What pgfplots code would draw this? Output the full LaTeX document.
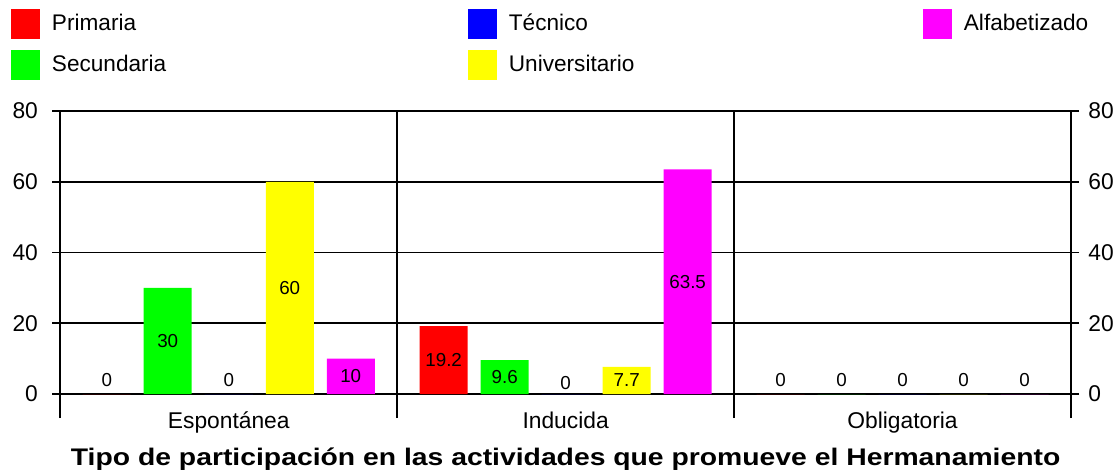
\documentclass[border=0pt]{standalone}
\usepackage{fontspec}
\setmainfont{Liberation Sans}
\usepackage{pgfplots}
\pgfplotsset{compat=1.18}
\definecolor{cRed}{RGB}{255,0,0}
\definecolor{cGreen}{RGB}{0,255,0}
\definecolor{cBlue}{RGB}{0,0,255}
\definecolor{cYellow}{RGB}{255,255,0}
\definecolor{cMag}{RGB}{255,0,255}
\pgfplotsset{
  mybar/.style={ybar, bar width=24pt, draw=none,
    legend image code/.code={\fill[##1] (0pt,-7.5pt) rectangle (14.5pt,7.5pt);}},
}
\begin{document}
\begin{tikzpicture}[x=1pt,y=1pt]
\path[use as bounding box] (0,0) rectangle (560,-238);
\begin{axis}[
  at={(30.15pt,-197pt)}, anchor=south west,
  scale only axis, width=505.35pt, height=141.5pt,
  xmin=-0.5, xmax=2.5, ymin=0, ymax=80,
  xtick={0,1,2}, xticklabels={Espontánea,Inducida,Obligatoria},
  minor xtick={-0.5,0.5,1.5,2.5},
  ytick={0,20,40,60,80},
  xminorgrids, ymajorgrids,
  tick pos=left, tick align=outside,
  major tick length=4pt, minor tick length=12pt,
  major x tick style={draw=none},
  minor x tick style={black, line width=0.8pt},
  ytick style={black, line width=0.8pt},
  major grid style={black, line width=0.8pt},
  minor grid style={black, line width=0.8pt},
  axis line style={black, line width=0.8pt},
  /pgf/number format/assume math mode=true,
  ticklabel style={font=\fontsize{11.4}{13}\selectfont},
  yticklabel style={inner sep=0pt, xshift=-7pt},
  xticklabel style={anchor=base, inner sep=0pt, yshift=-13pt},
  xlabel={\scalebox{1.18}[1]{\fontsize{12}{14}\selectfont\bfseries Tipo de participación en las actividades que promueve el Hermanamiento}},
  xlabel style={at={(axis description cs:0.5,0)}, anchor=base, inner sep=0pt, yshift=-35.5pt},
  legend columns=3, legend cell align=left,
  legend style={at={(axis description cs:-0.04878,1.3604)}, anchor=north west,
    draw=none, fill=none, inner sep=0pt, outer sep=0pt,
    font=\fontsize{11.3}{13}\selectfont, nodes={inner sep=0pt}, row sep=5.5pt,
    /tikz/every odd column/.style={column sep=6pt},
    /tikz/column 2/.style={column sep=150.8pt},
    /tikz/column 4/.style={column sep=144.2pt}},
]
\addplot[mybar, fill=cRed, bar shift=-61pt] coordinates {(0,0) (1,19.2) (2,0)};
\addlegendentry{Primaria}
\addplot[mybar, fill=cBlue, bar shift=0pt] coordinates {(0,0) (1,0) (2,0)};
\addlegendentry{Técnico}
\addplot[mybar, fill=cMag, bar shift=61pt] coordinates {(0,10) (1,63.5) (2,0)};
\addlegendentry{Alfabetizado}
\addplot[mybar, fill=cGreen, bar shift=-30.5pt] coordinates {(0,30) (1,9.6) (2,0)};
\addlegendentry{Secundaria}
\addplot[mybar, fill=cYellow, bar shift=30.5pt] coordinates {(0,60) (1,7.7) (2,0)};
\addlegendentry{Universitario}
\addplot[draw=none, forget plot, nodes near coords, point meta=explicit symbolic,
  nodes near coords style={anchor=center, inner sep=0pt, font=\fontsize{9.4}{11}\selectfont}]
  coordinates {
  (-0.36212,4.0) [0] (-0.18106,15) [30] (0,4.0) [0] (0.18106,30) [60] (0.36212,5) [10]
  (0.63788,9.6) [19.2] (0.81894,4.8) [9.6] (1,3.0) [0] (1.18106,3.85) [7.7] (1.36212,31.75) [63.5]
  (1.63788,4.0) [0] (1.81894,4.0) [0] (2,4.0) [0] (2.18106,4.0) [0] (2.36212,4.0) [0]
  };
\end{axis}
\begin{axis}[
  at={(30.15pt,-197pt)}, anchor=south west,
  scale only axis, width=505.35pt, height=141.5pt,
  xmin=-0.5, xmax=2.5, ymin=0, ymax=80,
  hide x axis, axis y line*=right,
  ytick={0,20,40,60,80}, tick align=outside, major tick length=4pt,
  ytick style={black, line width=0.8pt},
  axis line style={black, line width=0.8pt},
  /pgf/number format/assume math mode=true,
  ticklabel style={font=\fontsize{11.4}{13}\selectfont},
  yticklabel style={inner sep=0pt, xshift=4.5pt},
]
\addplot[draw=none] coordinates {(0,0) (1,0)};
\end{axis}
\end{tikzpicture}
\end{document}
